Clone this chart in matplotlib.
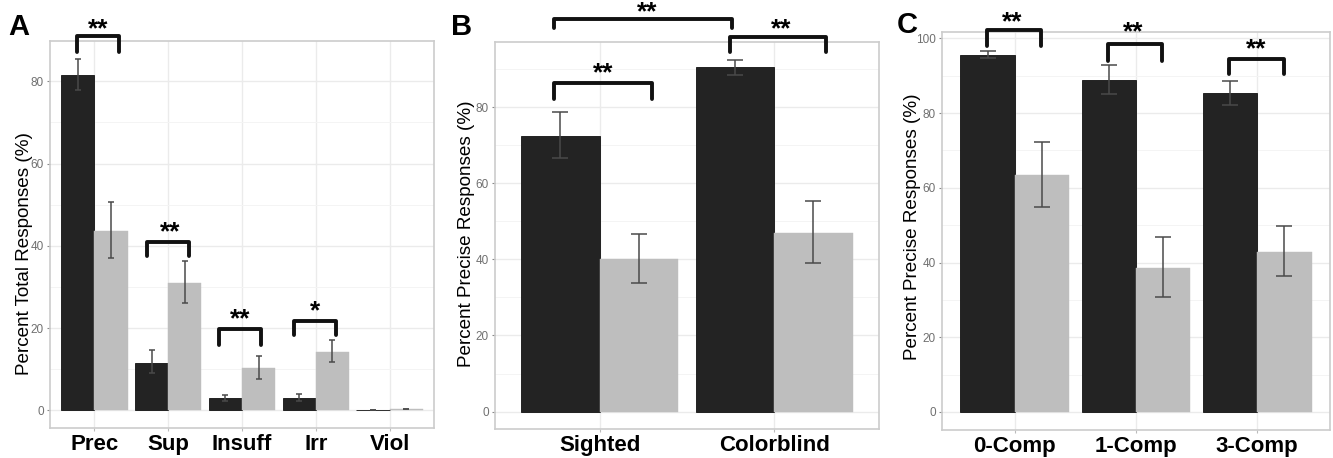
import matplotlib
matplotlib.use("Agg")
import matplotlib.pyplot as plt
import numpy as np

plt.rcParams['font.family'] = ['Liberation Sans', 'DejaVu Sans']

# panel A
a_cats = ["Prec", "Sup", "Insuff", "Irr", "Viol"]
a_dark = [81.5, 11.5, 3.0, 3.0, 0.1]
a_dark_lo = [78.0, 9.0, 2.3, 2.3, 0.1]
a_dark_hi = [85.3, 14.7, 3.8, 4.0, 0.1]
a_gray = [43.5, 31.0, 10.3, 14.3, 0.3]
a_gray_lo = [37.0, 26.0, 7.5, 11.7, 0.3]
a_gray_hi = [50.7, 36.2, 13.2, 17.1, 0.3]

# panel B
b_cats = ["Sighted", "Colorblind"]
b_dark = [72.6, 90.5]
b_dark_lo = [66.7, 88.5]
b_dark_hi = [78.8, 92.5]
b_gray = [40.0, 47.0]
b_gray_lo = [33.8, 39.0]
b_gray_hi = [46.7, 55.3]

# panel C
c_cats = ["0-Comp", "1-Comp", "3-Comp"]
c_dark = [95.6, 88.8, 85.3]
c_dark_lo = [94.8, 85.0, 82.3]
c_dark_hi = [96.6, 93.0, 88.6]
c_gray = [63.5, 38.5, 42.8]
c_gray_lo = [55.0, 30.7, 36.3]
c_gray_hi = [72.2, 46.8, 49.7]

# significance brackets: (x0, x1, y_top, y_leg, label, label_x, label_y)
a_sig = [(0.76, 1.34, 91.0, 87.1, "**", 1.06, 93.4),
         (1.71, 2.28, 40.9, 37.4, "**", 2.03, 44.0),
         (2.69, 3.26, 19.8, 15.9, "**", 2.98, 22.9),
         (3.70, 4.28, 21.8, 18.4, "*", 3.99, 25.0)]
b_sig = [(0.74, 1.756, 103.3, 100.9, "**", 1.27, 105.8),
         (1.746, 2.30, 98.4, 94.6, "**", 2.04, 101.4),
         (0.74, 1.30, 86.4, 82.3, "**", 1.02, 89.8)]
c_sig = [(0.767, 1.214, 102.3, 98.0, "**", 0.98, 105.3),
         (1.767, 2.214, 98.5, 94.0, "**", 1.98, 102.6),
         (2.767, 3.225, 94.5, 90.5, "**", 2.99, 98.1)]

DARK = "#232323"
LIGHT = "#bebebe"
W = 0.45

fig = plt.figure(figsize=(13.33, 4.58), dpi=100)


def panel(rect, cats, dark, dlo, dhi, gray, glo, ghi, sig, ylim, yticks,
          ylabel, label_xy, letter, letter_pos, cap):
    ax = fig.add_axes(rect)
    x = np.arange(1, len(cats) + 1)
    ax.bar(x - W / 2, dark, W, color=DARK, edgecolor="#111111", linewidth=0.6, zorder=2)
    ax.bar(x + W / 2, gray, W, color=LIGHT, edgecolor=LIGHT, linewidth=0.3, zorder=2)
    d = np.array(dark); g = np.array(gray)
    ax.errorbar(x - W / 2, d, yerr=[d - np.array(dlo), np.array(dhi) - d], fmt="none",
                ecolor="#4a4a4a", elinewidth=1.1, capsize=cap, capthick=1.1, zorder=3)
    ax.errorbar(x + W / 2, g, yerr=[g - np.array(glo), np.array(ghi) - g], fmt="none",
                ecolor="#4a4a4a", elinewidth=1.1, capsize=cap, capthick=1.1, zorder=3)
    ax.set_xlim(0.4, len(cats) + 0.6)
    ax.set_ylim(*ylim)
    ax.set_yticks(yticks)
    minor = [t + 10 for t in yticks if t + 10 < ylim[1]]
    ax.set_yticks(minor, minor=True)
    ax.set_xticks(x)
    ax.set_xticklabels(cats, fontsize=16, fontweight="bold")
    ax.tick_params(axis="y", labelsize=8.5, labelcolor="#707070", color="#8a8a8a",
                   length=2.5, width=0.8, pad=2)
    ax.tick_params(axis="x", color="#bbbbbb", length=2.5, width=0.8, pad=2)
    ax.tick_params(which="minor", length=0)
    ax.grid(True, which="major", color="#ebebeb", linewidth=1.0, zorder=0)
    ax.grid(True, which="minor", axis="y", color="#f4f4f4", linewidth=0.7, zorder=0)
    ax.set_axisbelow(True)
    for s in ax.spines.values():
        s.set_color("#cccccc")
        s.set_linewidth(1.2)
    ax.set_ylabel(ylabel, fontsize=13.6)
    ax.yaxis.set_label_coords(*label_xy)
    for x0, x1, yt, yl, lab, lx, ly in sig:
        ax.plot([x0, x0, x1, x1], [yl, yt, yt, yl], color="#111111", lw=2.8,
                solid_joinstyle="round", solid_capstyle="round", clip_on=False, zorder=5)
        ax.annotate(lab, (lx, ly), xytext=(0, -7.5), textcoords="offset points",
                    ha="center", va="baseline", fontsize=19, fontweight="bold",
                    annotation_clip=False)
    fig.text(letter_pos[0], letter_pos[1], letter, fontsize=21, fontweight="bold",
             ha="left", va="baseline")
    return ax


panel([0.0375, 0.0655, 0.288, 0.845], a_cats, a_dark, a_dark_lo, a_dark_hi,
      a_gray, a_gray_lo, a_gray_hi, a_sig, (-4.3, 89.8), [0, 20, 40, 60, 80],
      "Percent Total Responses (%)", (-0.044, 0.452), "A", (8 / 1333, 1 - 35 / 458), 2.5)
panel([0.3713, 0.0633, 0.288, 0.845], b_cats, b_dark, b_dark_lo, b_dark_hi,
      b_gray, b_gray_lo, b_gray_hi, b_sig, (-4.6, 97.2), [0, 20, 40, 60, 80],
      "Percent Precise Responses (%)", (-0.052, 0.505), "B", (451 / 1333, 1 - 35 / 458), 6)
panel([0.7069, 0.0611, 0.2906, 0.868], c_cats, c_dark, c_dark_lo, c_dark_hi,
      c_gray, c_gray_lo, c_gray_hi, c_sig, (-4.85, 101.6), [0, 20, 40, 60, 80, 100],
      "Percent Precise Responses (%)", (-0.055, 0.511), "C", (897 / 1333, 1 - 33 / 458), 6)

fig.savefig("out.png", dpi=100)
